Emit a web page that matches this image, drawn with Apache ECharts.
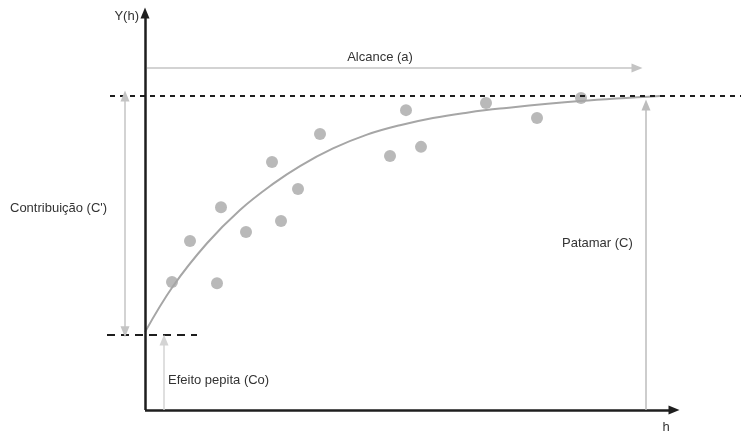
<!DOCTYPE html>
<html>
<head>
<meta charset="utf-8">
<script src="https://cdn.jsdelivr.net/npm/echarts@6/dist/echarts.min.js"></script>
<style>
html, body { margin: 0; padding: 0; background: #fff; }
#chart { width: 741px; height: 437px; }
</style>
</head>
<body>
<div id="chart"></div>
<script>
// experimental semivariogram points (h, γ)
const sampleH = [0.54, 0.90, 1.44, 1.52, 2.02, 2.54, 2.72, 3.06, 3.50, 4.90, 5.22, 5.52, 6.82, 7.84, 8.72]
const sampleGamma = [0.408, 0.538, 0.404, 0.646, 0.567, 0.790, 0.602, 0.704, 0.879, 0.809, 0.955, 0.838, 0.978, 0.930, 0.994]

// fitted model curve
const curveH = [0, 0.56, 1.24, 1.9, 2.56, 3.1, 3.76, 4.44, 5.1, 5.76, 6.44, 7.1, 8.7, 10.3]
const curveGamma = [0.248, 0.394, 0.531, 0.637, 0.72, 0.777, 0.833, 0.877, 0.907, 0.93, 0.947, 0.96, 0.984, 1.0]

// model parameters
const nugget = 0.239
const sill = 1.0
const rangeA = 9.84
const patamarH = 10.02
const pepitaH = 0.38
const contribH = -0.4
const alcanceY = 1.089
const axisMaxH = 10.58
const axisMaxY = 1.264

const chart = echarts.init(document.getElementById('chart'))

const dark = '#1e1e1e'
const light = '#c4c4c4'
const mid = '#a8a8a8'

function seg(from, to, style, endSym, startSym) {
  return [
    { coord: from, symbol: startSym || 'none', lineStyle: Object.assign({ type: 'solid' }, style) },
    { coord: to, symbol: endSym || 'none' }
  ]
}

const option = {
  animation: false,
  grid: { left: 0, right: 0, top: 0, bottom: 0 },
  xAxis: { type: 'value', min: -2.9, max: 11.92, show: false },
  yAxis: { type: 'value', min: -27 / 314, max: 410 / 314, show: false },
  series: [
    {
      name: 'modelo',
      type: 'line',
      data: curveH.map((h, i) => [h, curveGamma[i]]),
      smooth: 0.4,
      showSymbol: false,
      lineStyle: { color: '#a6a6a6', width: 2 },
      silent: true,
      markLine: {
        silent: true,
        label: { show: false },
        symbolSize: [9, 11],
        data: [
          seg([-0.7, sill], [11.92, sill], { color: dark, width: 2, type: [5, 5] }),
          seg([-0.76, nugget], [1.04, nugget], { color: dark, width: 2, type: [8, 6] }),
          seg([0, 0], [axisMaxH, 0], { color: dark, width: 2.5 }, 'triangle'),
          seg([0, 0], [0, axisMaxY], { color: dark, width: 2.5 }, 'triangle'),
          seg([0.04, alcanceY], [rangeA, alcanceY], { color: light, width: 1.5 }, 'triangle'),
          seg([contribH, nugget + 0.01], [contribH, sill], { color: light, width: 1.5 }, 'triangle', 'triangle'),
          seg([pepitaH, 0], [pepitaH, nugget - 0.016], { color: '#d4d4d4', width: 1.5 }, 'triangle'),
          seg([patamarH, 0], [patamarH, sill - 0.029], { color: '#bdbdbd', width: 1.5 }, 'triangle')
        ]
      }
    },
    {
      name: 'amostras',
      type: 'scatter',
      data: sampleH.map((h, i) => [h, sampleGamma[i]]),
      symbolSize: 12,
      itemStyle: { color: mid },
      silent: true
    }
  ]
}

chart.setOption(option)

// text annotations anchored in data space
const labels = [
  { text: 'Y(h)', at: [-0.12, 1.255], align: 'right' },
  { text: 'Alcance (a)', at: [4.7, 1.124], align: 'center' },
  { text: 'Contribuição (C\')', at: [-2.7, 0.643], align: 'left' },
  { text: 'Patamar (C)', at: [8.34, 0.532], align: 'left' },
  { text: 'Efeito pepita (Co)', at: [0.46, 0.0955], align: 'left' },
  { text: 'h', at: [10.42, -0.057], align: 'center' }
]

chart.setOption({
  graphic: labels.map((l) => {
    const p = chart.convertToPixel({ gridIndex: 0 }, l.at)
    return {
      type: 'text',
      x: p[0],
      y: p[1],
      silent: true,
      style: {
        text: l.text,
        fill: '#333',
        font: '13px "Liberation Sans", Arial, sans-serif',
        textAlign: l.align,
        textVerticalAlign: 'middle'
      }
    }
  })
})
</script>
</body>
</html>
